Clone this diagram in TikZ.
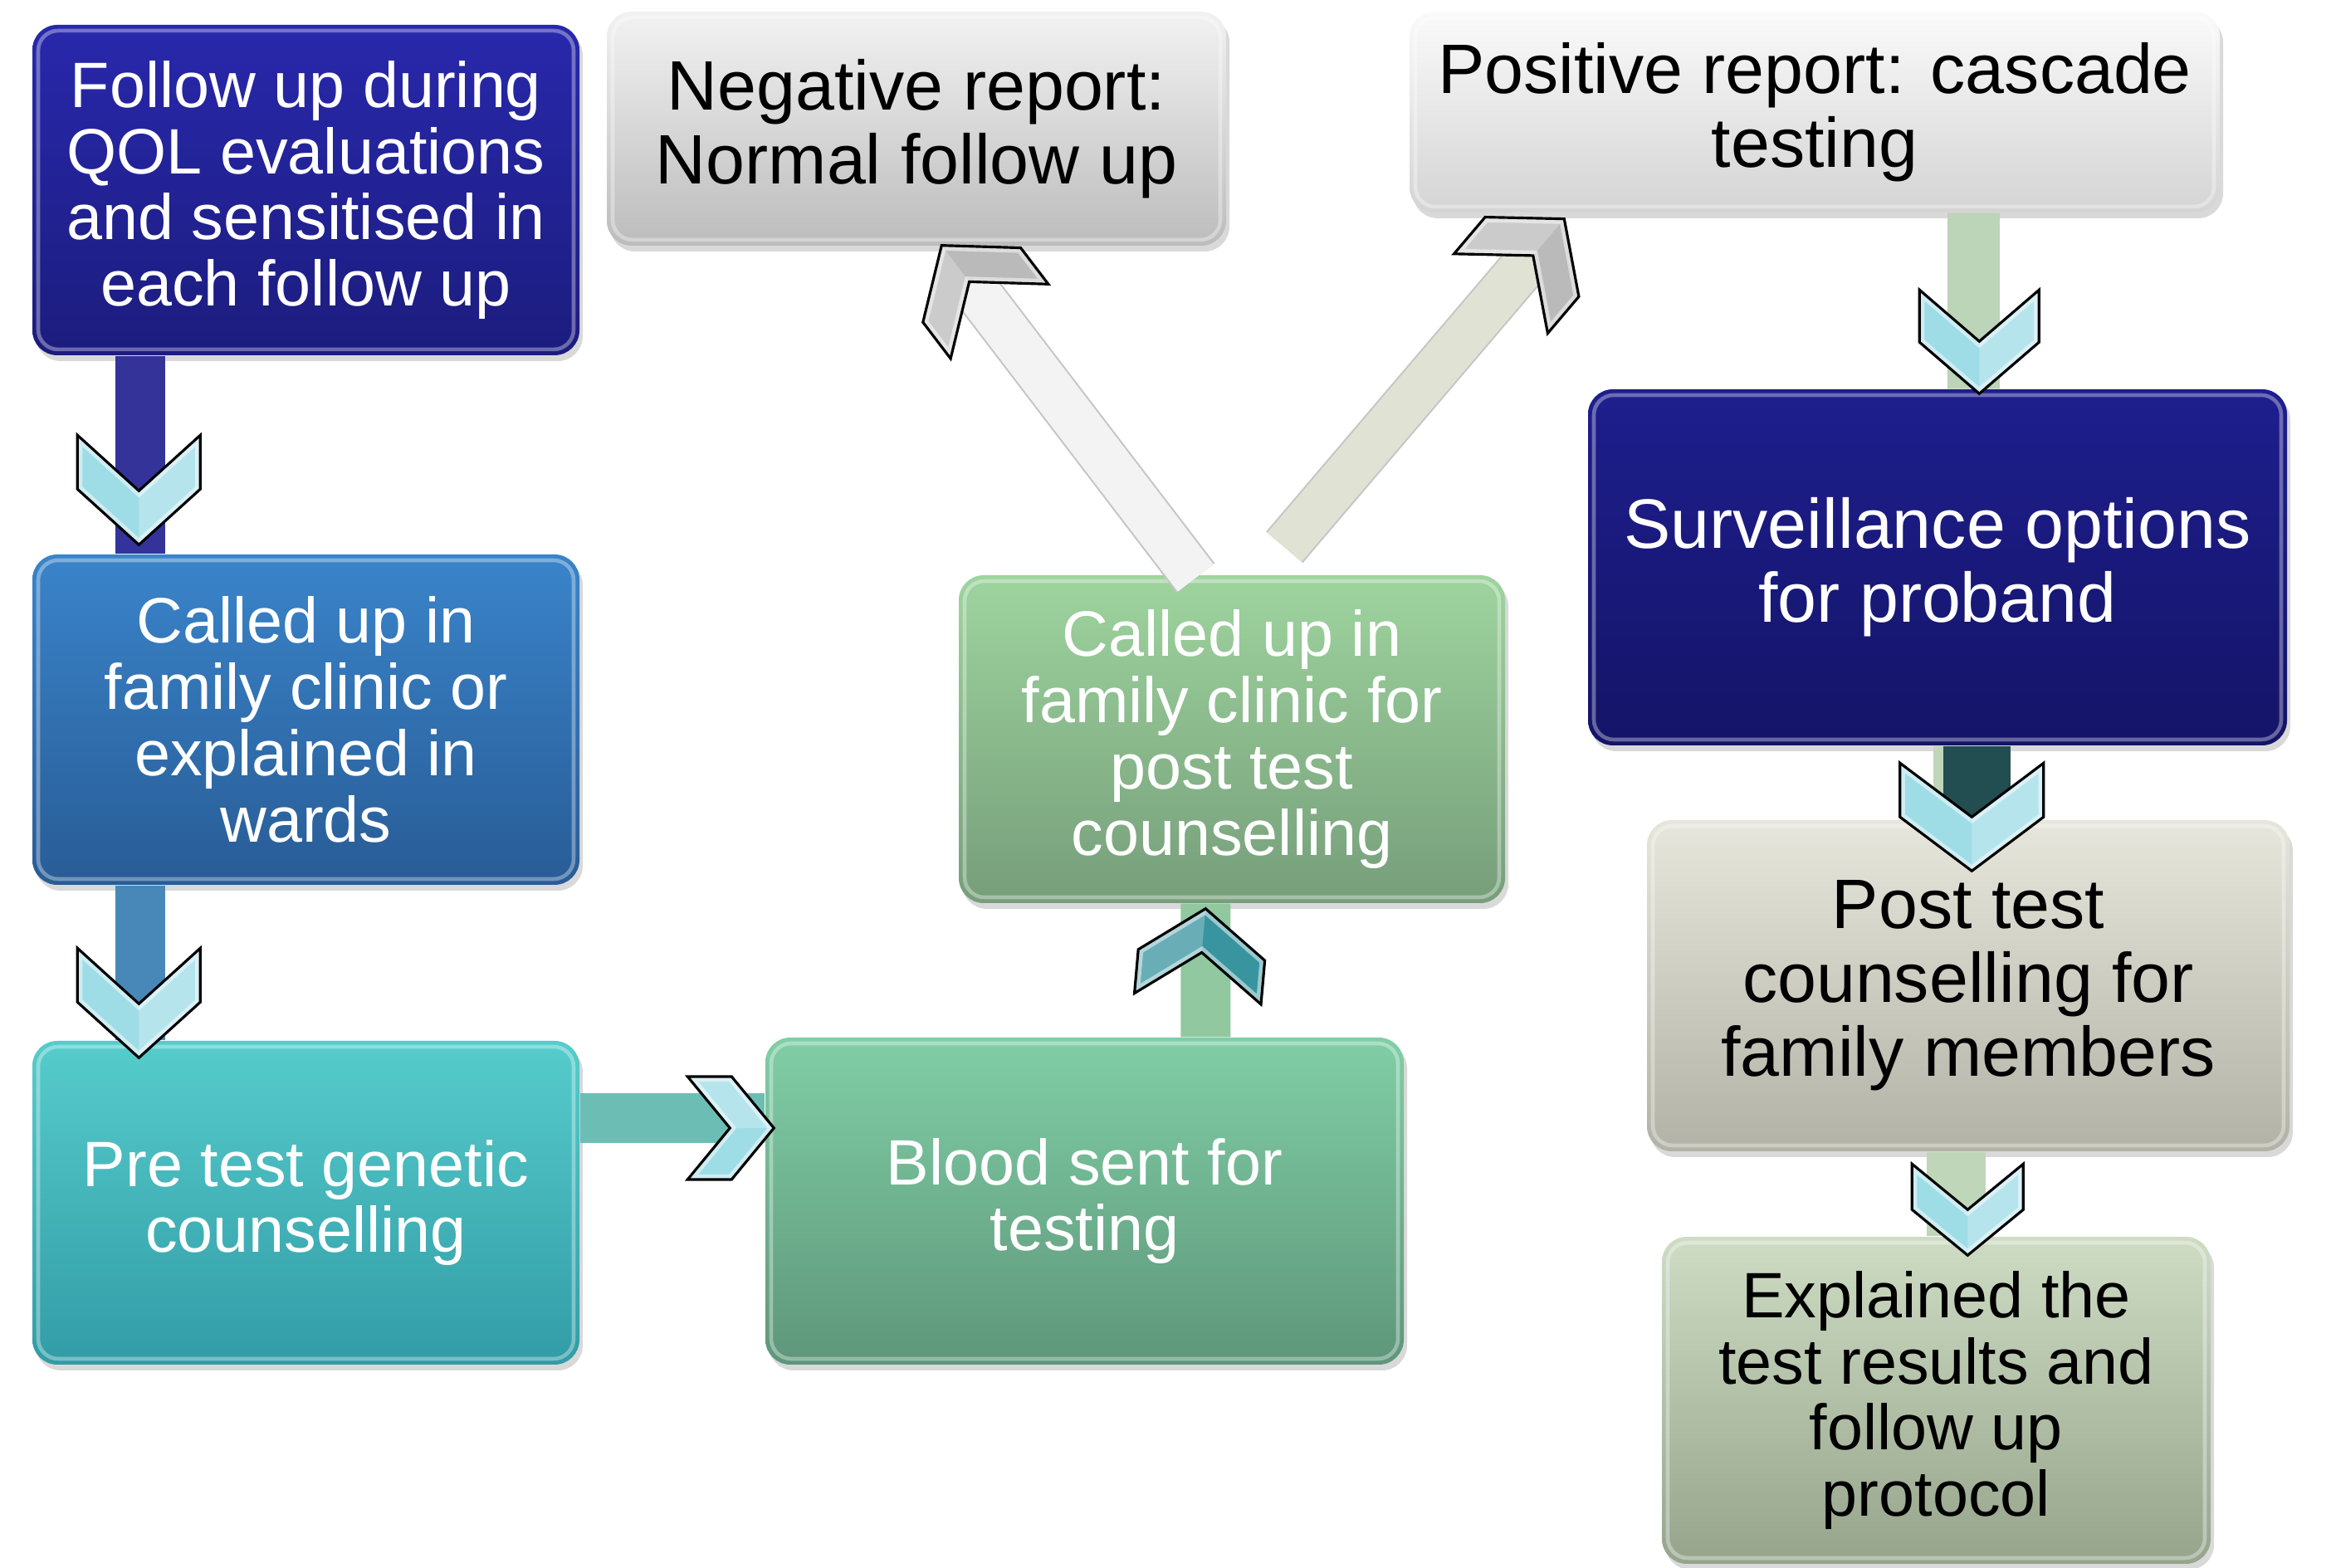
\documentclass[tikz,border=0pt]{standalone}
\usepackage{fontspec}
\setmainfont{Liberation Sans}
\usepackage{xcolor}
\usetikzlibrary{calc}
\usetikzlibrary{shadows}
\definecolor{followtop}{RGB}{40,40,172}
\definecolor{followbot}{RGB}{28,28,126}
\definecolor{calledAtop}{RGB}{58,132,202}
\definecolor{calledAbot}{RGB}{40,92,150}
\definecolor{pretesttop}{RGB}{86,204,204}
\definecolor{pretestbot}{RGB}{50,156,166}
\definecolor{bloodtop}{RGB}{128,206,166}
\definecolor{bloodbot}{RGB}{94,150,122}
\definecolor{calledBtop}{RGB}{158,212,158}
\definecolor{calledBbot}{RGB}{118,158,122}
\definecolor{negtop}{RGB}{242,242,242}
\definecolor{negbot}{RGB}{188,188,188}
\definecolor{postop}{RGB}{250,250,250}
\definecolor{posbot}{RGB}{212,212,212}
\definecolor{survtop}{RGB}{30,30,142}
\definecolor{survbot}{RGB}{20,20,104}
\definecolor{famtop}{RGB}{230,230,220}
\definecolor{fambot}{RGB}{178,178,166}
\definecolor{expltop}{RGB}{206,220,196}
\definecolor{explbot}{RGB}{150,164,140}
\definecolor{barA}{RGB}{51,51,154}
\definecolor{barB}{RGB}{72,136,184}
\definecolor{barC}{RGB}{108,190,180}
\definecolor{barD}{RGB}{146,200,160}
\definecolor{barE}{RGB}{243,243,243}
\definecolor{barF}{RGB}{224,226,212}
\definecolor{barG}{RGB}{188,212,184}
\definecolor{barH}{RGB}{34,78,82}
\definecolor{barI}{RGB}{192,214,184}
\definecolor{chevlight}{RGB}{158,220,230}
\definecolor{chevteal}{RGB}{56,148,158}
\definecolor{chevgray}{RGB}{186,186,186}

\begin{document}
\begin{tikzpicture}[
  box/.style={rounded corners=0.3cm, align=center, inner sep=0pt,
    drop shadow={shadow xshift=0.04cm, shadow yshift=-0.07cm, opacity=0.3},
    path picture={\draw[white, opacity=0.35, line width=1.3pt, rounded corners=0.24cm]
      ([shift={(0.07,-0.07)}]path picture bounding box.north west) rectangle
      ([shift={(-0.07,0.07)}]path picture bounding box.south east);}},
  small/.style={font=\fontsize{22}{22.7}\selectfont},
  large/.style={font=\fontsize{24}{25.3}\selectfont},
  bar/.style={line width=0.6cm},
  diagbar/.style={line width=0.6pt, draw=gray!45, double distance=0.54cm},
  pics/chevron/.style n args={4}{code={
    \fill[#4] (0,0) -- (-#2,#1) -- (-#2-#3,#1) -- (-#3,0) -- (-#2-#3,-#1) -- (-#2,-#1) -- cycle;
    \fill[white, opacity=0.25] (0,0) -- (-#2,#1) -- (-#2-#3,#1) -- (-#3,0) -- cycle;
    \begin{scope}
      \clip (0,0) -- (-#2,#1) -- (-#2-#3,#1) -- (-#3,0) -- (-#2-#3,-#1) -- (-#2,-#1) -- cycle;
      \draw[white, opacity=0.5, line width=3.5pt] (0,0) -- (-#2,#1) -- (-#2-#3,#1) -- (-#3,0) -- (-#2-#3,-#1) -- (-#2,-#1) -- cycle;
    \end{scope}
    \draw[line width=0.9pt] (0,0) -- (-#2,#1) -- (-#2-#3,#1) -- (-#3,0) -- (-#2-#3,-#1) -- (-#2,-#1) -- cycle;
  }}
]
\useasboundingbox (0,0) rectangle (28.08,18.89);

%left column
\node[box, small, text=white, minimum width=6.59cm, minimum height=3.98cm,
  top color=followtop, bottom color=followbot] (follow) at (3.685,16.60)
  {Follow up during\\QOL evaluations\\and sensitised in\\each follow up};
\node[box, small, text=white, minimum width=6.59cm, minimum height=3.98cm,
  top color=calledAtop, bottom color=calledAbot] (calledA) at (3.685,10.22)
  {Called up in\\family clinic or\\explained in\\wards};
\node[box, small, text=white, minimum width=6.59cm, minimum height=3.90cm,
  top color=pretesttop, bottom color=pretestbot] (pretest) at (3.685,4.40)
  {Pre test genetic\\counselling};

%middle
\node[box, small, text=white, minimum width=7.69cm, minimum height=3.94cm,
  top color=bloodtop, bottom color=bloodbot] (blood) at (13.065,4.42)
  {Blood sent for\\testing};
\node[box, small, text=white, minimum width=6.58cm, minimum height=3.95cm,
  top color=calledBtop, bottom color=calledBbot] (calledB) at (14.84,9.985)
  {Called up in\\family clinic for\\post test\\counselling};
\node[box, large, minimum width=7.46cm, minimum height=2.82cm,
  top color=negtop, bottom color=negbot] (neg) at (11.04,17.34)
  {Negative report:\\Normal follow up};

%right column
\node[box, large, minimum width=9.76cm, minimum height=2.42cm,
  top color=postop, bottom color=posbot] (pos) at (21.86,17.54)
  {Positive report: cascade\\testing};
\node[box, large, text=white, minimum width=8.42cm, minimum height=4.29cm,
  top color=survtop, bottom color=survbot] (surv) at (23.34,12.055)
  {Surveillance options\\for proband};
\node[box, large, minimum width=7.74cm, minimum height=3.99cm,
  top color=famtop, bottom color=fambot] (postfam) at (23.71,7.015)
  {Post test\\counselling for\\family members};
\node[box, small, minimum width=6.61cm, minimum height=3.94cm,
  top color=expltop, bottom color=explbot] (explained) at (23.325,2.02)
  {Explained the\\test results and\\follow up\\protocol};

%bars
\draw[bar, barA] ($(follow.south west)+(1.31,0)$) -- ($(calledA.north west)+(1.31,0)$);
\draw[bar, barB] ($(calledA.south west)+(1.31,0)$) -- ($(pretest.north west)+(1.31,0)$);
\draw[bar, barC] ($(pretest.east)+(0,1.02)$) -- ($(blood.west)+(0,1.0)$);
\draw[bar, barD] ($(blood.north west)+(5.31,0)$) -- ($(calledB.south west)+(2.98,0)$);
\coordinate (negfoot) at ($(calledB.north west)+(2.86,-0.04)$);
\coordinate (negtip) at ($(neg.south west)+(4.04,0.01)$);
\draw[diagbar, double=barE] (negfoot) -- ($(negtip)!0.45cm!(negfoot)$);
\coordinate (posfoot) at ($(calledB.north west)+(3.93,0.33)$);
\coordinate (postip) at ($(pos.south west)+(1.87,-0.07)$);
\draw[diagbar, double=barF] (posfoot) -- ($(postip)!0.45cm!(posfoot)$);
\draw[bar, barG, line width=0.63cm] ($(pos.south west)+(6.80,0)$) -- ($(surv.north west)+(4.65,0)$);
\draw[bar, barI] ($(surv.south west)+(4.47,0)$) -- ($(postfam.north west)+(3.76,0)$);
\draw[bar, barH, line width=0.81cm] ($(surv.south west)+(4.69,0)$) -- ($(postfam.north west)+(3.98,0)$);
\draw[bar, barI, line width=0.71cm] ($(postfam.south west)+(3.73,0)$) -- ($(explained.north west)+(3.55,0)$);

%chevron heads
\pic[rotate=-90] at ($(calledA.north west)+(1.29,0.11)$) {chevron={0.74}{0.67}{0.65}{chevlight}};
\pic[rotate=-90] at ($(pretest.north west)+(1.29,-0.21)$) {chevron={0.74}{0.67}{0.65}{chevlight}};
\pic at ($(blood.west)+(0.11,0.88)$) {chevron={0.62}{0.51}{0.53}{chevlight}};
\pic[rotate=85] at ($(calledB.south west)+(2.98,-0.06)$) {chevron={0.765}{0.56}{0.53}{chevteal}};
\pic[rotate=127.3] at (negtip) {chevron={0.74}{0.6}{0.55}{chevgray}};
\pic[rotate=49.7] at (postip) {chevron={0.74}{0.6}{0.58}{chevgray}};
\pic[rotate=-90] at ($(surv.north west)+(4.72,-0.06)$) {chevron={0.72}{0.62}{0.63}{chevlight}};
\pic[rotate=-90] at ($(postfam.north west)+(3.92,-0.62)$) {chevron={0.865}{0.65}{0.65}{chevlight}};
\pic[rotate=-90] at ($(explained.north west)+(3.69,-0.23)$) {chevron={0.67}{0.55}{0.55}{chevlight}};

\end{tikzpicture}
\end{document}
